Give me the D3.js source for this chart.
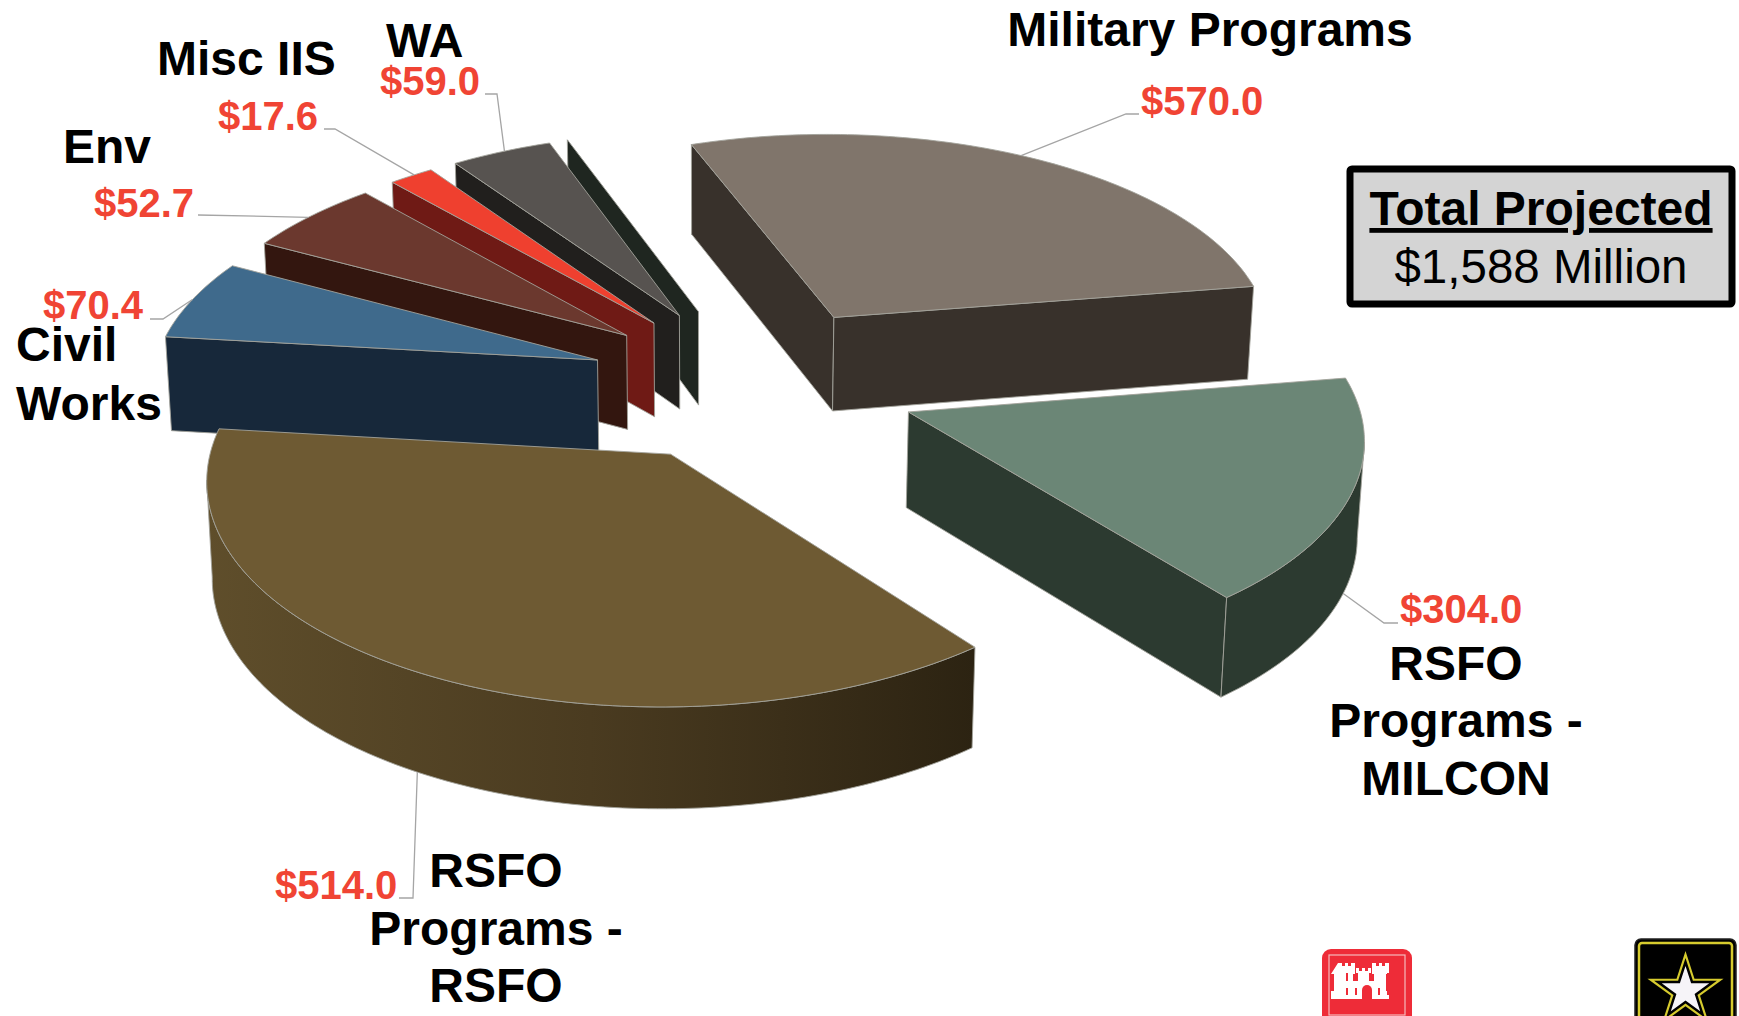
<!DOCTYPE html>
<html>
<head>
<meta charset="utf-8">
<title>Total Projected</title>
<script src="https://cdnjs.cloudflare.com/ajax/libs/d3/7.8.5/d3.min.js"></script>
<style>
body { margin: 0; background: #fff; }
text { font-family: "Liberation Sans", Arial, sans-serif; }
</style>
</head>
<body>
<svg id="chart" width="1739" height="1016"></svg>
<script>
// slice order runs clockwise from Military Programs, last one is the thin unlabelled sliver
var categories = ["Military Programs", "RSFO Programs - MILCON", "RSFO Programs - RSFO", "Civil Works", "Env", "Misc IIS", "WA", ""];
var values = [570.0, 304.0, 514.0, 70.4, 52.7, 17.6, 59.0, 0.3];
var totalProjected = 1588;

var topColors = ["#80756b", "#6b8676", "#6e5a33", "#3f6a8c", "#6b382e", "#ef402f", "#575350", "#1f2620"];
var wallColors = ["#38312b", "#2c3a30", "url(#rsfoWall)", "#17283a", "#33160f", "#6f1a15", "#211f1d", "#1f2620"];

// category label lines: text, x, baseline, anchor
var nameLines = [
    ["Military Programs", 1210, 46, "middle"],
    ["RSFO", 1456, 680, "middle"],
    ["Programs -", 1456, 737, "middle"],
    ["MILCON", 1456, 795, "middle"],
    ["RSFO", 496, 887, "middle"],
    ["Programs -", 496, 945, "middle"],
    ["RSFO", 496, 1002, "middle"],
    ["Civil", 16, 361, "start"],
    ["Works", 16, 420, "start"],
    ["Env", 63, 163, "start"],
    ["Misc IIS", 157, 75, "start"],
    ["WA", 386, 57, "start"]
];
// value label position per slice, with leader elbow and where on the slice rim it lands
var valueX = [1141, 1400, 275, 43, 94, 218, 380];
var valueY = [115, 623, 899, 319, 217, 130, 95];
var leaderEnd = [[1139, 114], [1398, 623], [399, 898], [150, 319], [198, 215], [324, 129], [485, 94]];
var leaderElbow = [[1126, 114], [1384, 623], [413, 898], [163, 319], [198, 215], [335, 129], [497, 94]];
var leaderFrac = [0.49, 0.5, 0.5, 0.5, 0.46, 0.5, 0.5];
var leaderOnBottom = [false, true, true, false, false, false, false];

var pie = d3.pie().sort(null).value(function (d) { return d; });
var slices = pie(values);

// the picture's perspective squeezes the right hand slices, so pie angles go through this scale
var pieAngles = slices.map(function (d) { return d.startAngle; }).concat([2 * Math.PI]);
var planeAngle = d3.scaleLinear()
    .domain(pieAngles)
    .range([-20.009, 80.946, 141.491, 276.471, 298.185, 318.486, 325.091, 339.977, 339.991]);

var center = [752.967, 383.121], radiusX = 446.041, radiusY = 213.068;
var tilt = 0.098, explode = 0.369, depth = 95, converge = 0.011, vanishX = 710;
var rad = Math.PI / 180;

function project(X, Y) {
    var w = 1 - tilt * Y;
    return { x: center[0] + radiusX * X / w, y: center[1] + radiusY * Y / w, w: w };
}
function lower(p) {
    return [p.x + (vanishX - p.x) * converge, p.y + depth / Math.sqrt(p.w)];
}
function upper(p) {
    return [p.x, p.y];
}
function midAngle(s) {
    return (planeAngle(s.startAngle) + planeAngle(s.endAngle)) / 2 * rad;
}
function slicePoint(s, deg) {
    var m = midAngle(s);
    return project(explode * Math.sin(m) + Math.sin(deg * rad), -explode * Math.cos(m) - Math.cos(deg * rad));
}
function sliceApex(s) {
    var m = midAngle(s);
    return project(explode * Math.sin(m), -explode * Math.cos(m));
}
function rimPoints(s) {
    var a = planeAngle(s.startAngle), b = planeAngle(s.endAngle);
    var n = Math.max(2, Math.ceil(Math.abs(b - a)));
    return d3.range(n + 1).map(function (k) { return slicePoint(s, a + (b - a) * k / n); });
}

var svg = d3.select("#chart");
var line = d3.line();

var grad = svg.append("defs").append("linearGradient")
    .attr("id", "rsfoWall")
    .attr("gradientUnits", "userSpaceOnUse")
    .attr("x1", 205).attr("y1", 0).attr("x2", 975).attr("y2", 0);
grad.append("stop").attr("offset", 0).attr("stop-color", "#5f4e2b");
grad.append("stop").attr("offset", 0.5).attr("stop-color", "#4a3b20");
grad.append("stop").attr("offset", 1).attr("stop-color", "#2c2312");

// back to front so the near slices sit over the far ones
var drawOrder = [7, 6, 5, 4, 3, 0, 1, 2];
var edge = "#a3a39b";

drawOrder.forEach(function (i) {
    var s = slices[i];
    var apex = sliceApex(s), rim = rimPoints(s);
    var g = svg.append("g").attr("class", "slice");
    var first = rim[0], last = rim[rim.length - 1];

    // a wall shows only when its top edge runs leftwards going clockwise round the slice
    var walls = [];
    if (first.x < apex.x) walls.push([upper(apex), upper(first), lower(first), lower(apex)]);
    if (apex.x < last.x) walls.push([upper(apex), upper(last), lower(last), lower(apex)]);
    var front = rim.filter(function (p, k) {
        return (k < rim.length - 1 && rim[k + 1].x < p.x) || (k > 0 && p.x < rim[k - 1].x);
    });
    if (front.length > 1) walls.push(front.map(upper).concat(front.slice().reverse().map(lower)));

    g.selectAll("path.wall").data(walls).enter().append("path")
        .attr("class", "wall")
        .attr("d", function (d) { return line(d) + "Z"; })
        .attr("fill", wallColors[i])
        .attr("stroke", edge)
        .attr("stroke-width", 0.9)
        .attr("stroke-linejoin", "round");

    g.append("path")
        .attr("d", line([upper(apex)].concat(rim.map(upper))) + "Z")
        .attr("fill", topColors[i])
        .attr("stroke", i === 7 ? "none" : edge)
        .attr("stroke-width", 0.9)
        .attr("stroke-linejoin", "round");
});

// leader lines
leaderFrac.forEach(function (f, i) {
    var rim = rimPoints(slices[i]);
    var p = rim[Math.round(f * (rim.length - 1))];
    var from = leaderOnBottom[i] ? lower(p) : upper(p);
    svg.append("path")
        .attr("d", line([from, leaderElbow[i], leaderEnd[i]]))
        .attr("fill", "none")
        .attr("stroke", "#a5a5a5")
        .attr("stroke-width", 1.3);
});

var fmt = d3.format("$.1f");
valueX.forEach(function (x, i) {
    svg.append("text")
        .attr("x", x).attr("y", valueY[i])
        .attr("font-size", 40)
        .attr("font-weight", "bold")
        .attr("fill", "#f04434")
        .text(fmt(values[i]));
});

nameLines.forEach(function (d) {
    svg.append("text")
        .attr("x", d[1]).attr("y", d[2])
        .attr("text-anchor", d[3])
        .attr("font-size", 48)
        .attr("font-weight", "bold")
        .attr("fill", "#000")
        .text(d[0]);
});

// total box
svg.append("rect")
    .attr("x", 1350).attr("y", 169).attr("width", 382).attr("height", 135)
    .attr("rx", 2)
    .attr("fill", "#d4d4d4")
    .attr("stroke", "#000")
    .attr("stroke-width", 7);
svg.append("text")
    .attr("x", 1541).attr("y", 225)
    .attr("text-anchor", "middle")
    .attr("font-size", 48)
    .attr("font-weight", "bold")
    .attr("text-decoration", "underline")
    .text("Total Projected");
svg.append("text")
    .attr("x", 1541).attr("y", 283)
    .attr("text-anchor", "middle")
    .attr("font-size", 47.5)
    .text(d3.format("$,")(totalProjected) + " Million");

// castle logo
var castle = svg.append("g");
castle.append("rect").attr("x", 1322).attr("y", 949).attr("width", 90).attr("height", 75).attr("rx", 9).attr("fill", "#ee2c38");
castle.append("rect").attr("x", 1329).attr("y", 955).attr("width", 76).attr("height", 60).attr("fill", "none").attr("stroke", "#f6b9bb").attr("stroke-width", 1.2);
var castlePath = "M1338 963h4v3h3v-3h3v3h3v-3h4v11h-2v7h5v-8h-2v-5h3v3h3v-3h3v3h3v-3h3v5h-2v8h5v-7h-2v-11h4v3h3v-3h3v3h3v-3h4v11h-3v17h3v8h-58v-8h3v-17h-3z";
castle.append("path").attr("d", castlePath).attr("fill", "#fff");
castle.append("path").attr("d", "M1362 1002v-12a5 5 0 0 1 10 0v12z").attr("fill", "#ee2c38");
[1346, 1355, 1378, 1387].forEach(function (x) {
    castle.append("rect").attr("x", x).attr("y", 988).attr("width", 2).attr("height", 7).attr("fill", "#ee2c38");
});
[1346, 1387].forEach(function (x) {
    castle.append("rect").attr("x", x).attr("y", 973).attr("width", 2).attr("height", 8).attr("fill", "#ee2c38");
});

// army star logo
var army = svg.append("g");
army.append("rect").attr("x", 1635).attr("y", 939).attr("width", 101).attr("height", 95).attr("rx", 6).attr("fill", "#000").attr("stroke", "#222").attr("stroke-width", 1.5);
army.append("rect").attr("x", 1639).attr("y", 943).attr("width", 93).attr("height", 90).attr("rx", 3).attr("fill", "none").attr("stroke", "#d6cb2e").attr("stroke-width", 2.5);
function starPoints(r) {
    return d3.range(10).map(function (k) {
        var rr = k % 2 ? r * 0.382 : r;
        var a = k * 36 * rad;
        return [1685.5 + rr * Math.sin(a), 991 - rr * Math.cos(a)];
    });
}
[[40, "#d6cb2e"], [33, "#000"], [25, "#f6f4f8"]].forEach(function (d) {
    army.append("path").attr("d", line(starPoints(d[0])) + "Z").attr("fill", d[1]);
});
</script>
</body>
</html>
